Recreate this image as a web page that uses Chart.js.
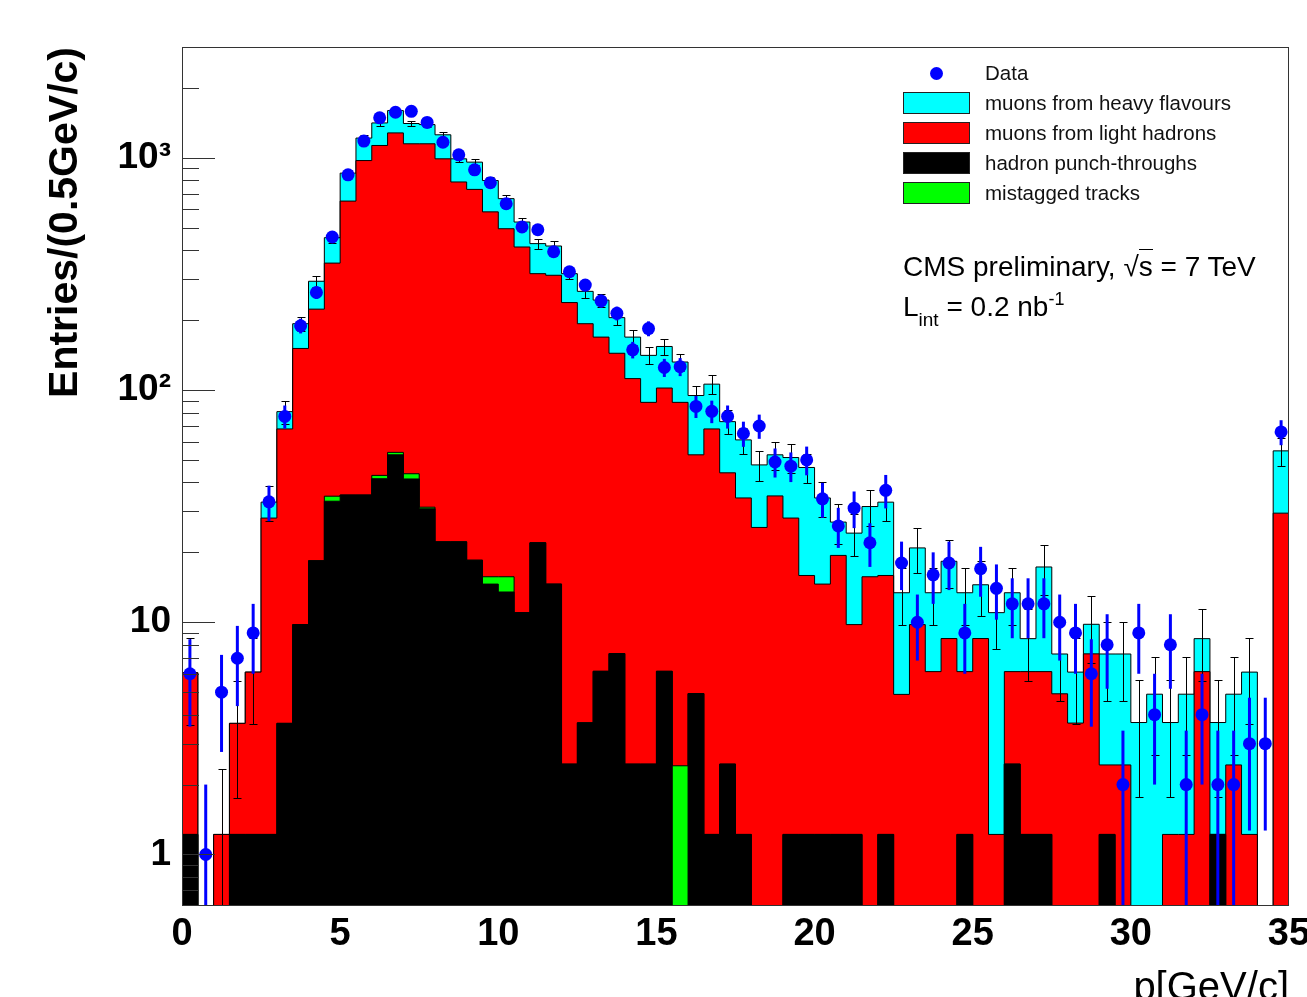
<!DOCTYPE html>
<html>
<head>
<meta charset="utf-8">
<title>Muon momentum spectrum</title>
<script src="https://cdn.jsdelivr.net/npm/chart.js@4.4.1/dist/chart.umd.min.js"></script>
<style>
  html, body { margin: 0; padding: 0; background: #fff; }
  #wrap { position: relative; width: 1307px; height: 997px; overflow: hidden; }
  #wrap canvas { position: absolute; left: 0; top: 0; }
  .ov { position: absolute; font-family: "Liberation Sans", Arial, Helvetica, sans-serif; color: #000; white-space: nowrap; }
  .leg-text { font-size: 20.5px; line-height: 20.5px; color: #111; }
  .leg-box { position: absolute; width: 65px; height: 20px; border: 1px solid #222; }
  .leg-dot { position: absolute; width: 13px; height: 13px; border-radius: 50%; }
  .cms { font-size: 28px; line-height: 28px; }
  .rt { border-top: 1.5px solid #000; padding-top: 1px; }
  .sub { font-size: 19px; position: relative; top: 10px; }
  .sup { font-size: 18px; position: relative; top: -11px; }
</style>
</head>
<body>
<div id="wrap">
  <canvas id="chart" width="1307" height="997"></canvas>
  <div id="legend"></div>
  <div class="ov cms" style="left:903px; top:253px">CMS preliminary, &radic;<span class="rt">s</span> = 7 TeV</div>
  <div class="ov cms" style="left:903px; top:293px">L<span class="sub">int</span> = 0.2 nb<span class="sup">-1</span></div>
</div>
<script>
// 0.5 GeV/c bins, low edges
const binLow = [
  0, 0.5, 1, 1.5, 2, 2.5, 3, 3.5, 4, 4.5, 5, 5.5, 6, 6.5, 7, 7.5, 8, 8.5, 9, 9.5,
  10, 10.5, 11, 11.5, 12, 12.5, 13, 13.5, 14, 14.5, 15, 15.5, 16, 16.5, 17, 17.5, 18, 18.5, 19, 19.5,
  20, 20.5, 21, 21.5, 22, 22.5, 23, 23.5, 24, 24.5, 25, 25.5, 26, 26.5, 27, 27.5, 28, 28.5, 29, 29.5,
  30, 30.5, 31, 31.5, 32, 32.5, 33, 33.5, 34, 34.5
];
const BIN_W = 0.5;

// data counts per bin
const dataCounts = [
  6, 1, 5, 7, 9, 33, 77, 189, 263, 456,
  845, 1180, 1486, 1571, 1585, 1420, 1167, 1030, 888, 781,
  634, 504, 490, 394, 323, 283, 242, 214, 149, 184,
  125, 126, 85, 81, 77, 65, 70, 49, 47, 50,
  34, 26, 31, 22, 37, 18, 10, 16, 18, 9,
  17, 14, 12, 12, 12, 10, 9, 6, 8, 2,
  9, 4, 8, 2, 4, 2, 2, 3, 3, 66
];

// stack levels (ROOT THStack draws the cumulative sums, each one filled from the bottom)
// top of stack = heavy flavours + light hadrons + mistagged + punch-through
const stackHeavy = [
  6.06, 0, 1.22, 3.67, 6.1, 32.9, 80.7, 193, 294, 453,
  859, 1216, 1413, 1597, 1405, 1390, 1256, 990, 958, 798,
  667, 529, 427, 417, 317, 266, 244, 205, 169, 141,
  154, 132, 94.7, 106, 73.1, 61, 47.6, 52.6, 51.2, 46.4,
  34.3, 27.0, 24.2, 31.5, 32.9, 13.4, 20.9, 13.4, 18.3, 13.4,
  14.5, 11.0, 13.4, 8.5, 17.3, 7.3, 6.1, 9.8, 7.3, 7.3,
  3.7, 4.9, 3.7, 4.9, 8.5, 3.7, 4.9, 6.1, 0, 54.7
];
// light hadrons + mistagged + punch-through
const stackLight = [
  6.06, 0, 1.22, 3.67, 6.1, 28.1, 68, 151, 223, 352,
  651, 973, 1130, 1280, 1149, 1149, 990, 787, 731, 585,
  495, 413, 317, 312, 238, 193, 169, 144, 112, 88.5,
  102, 88.5, 52.6, 68, 44.0, 34.3, 25.6, 35, 28.1, 15.9,
  14.6, 19.4, 9.77, 15.7, 15.9, 4.89, 9.77, 6.13, 8.51, 6.13,
  8.51, 1.22, 6.13, 6.13, 6.13, 4.92, 3.68, 7.31, 2.43, 2.43,
  0, 0, 1.22, 1.22, 6.13, 1.22, 2.43, 1.22, 0, 29.5
];
// mistagged + punch-through
const stackMistag = [
  1.22, 0, 0, 1.22, 1.22, 1.22, 3.67, 9.77, 18.4, 34.9,
  35.3, 35.3, 42.9, 53.9, 43.6, 31.3, 22.2, 22.2, 18.5, 15.7,
  15.7, 11.0, 22.0, 14.6, 2.45, 3.69, 6.15, 7.33, 2.45, 2.45,
  6.15, 2.41, 4.93, 1.22, 2.45, 1.22, 0, 0, 1.22, 1.22,
  1.22, 1.22, 1.22, 0, 1.22, 0, 0, 0, 0, 1.22,
  0, 0, 2.45, 1.22, 1.22, 0, 0, 0, 1.22, 0,
  0, 0, 0, 0, 0, 1.22, 0, 0, 0, 0
];
// punch-through only
const stackPunch = [
  1.22, 0, 0, 1.22, 1.22, 1.22, 3.67, 9.77, 18.4, 33.2,
  35.3, 35.3, 41.5, 52.6, 41.4, 30.8, 22.2, 22.2, 18.5, 14.6,
  13.5, 11.0, 22.0, 14.6, 2.45, 3.69, 6.15, 7.33, 2.45, 2.45,
  6.15, 0, 4.93, 1.22, 2.45, 1.22, 0, 0, 1.22, 1.22,
  1.22, 1.22, 1.22, 0, 1.22, 0, 0, 0, 0, 1.22,
  0, 0, 2.45, 1.22, 1.22, 0, 0, 0, 1.22, 0,
  0, 0, 0, 0, 0, 1.22, 0, 0, 0, 0
];

// axis ticks
const yMajor = [1, 10, 100, 1000];
const yMajorLabels = ["1", "10", "10\u00b2", "10\u00b3"];
const yMinor = [0.7, 0.8, 0.9, 2, 3, 4, 5, 6, 7, 8, 9, 20, 30, 40, 50, 60, 70, 80, 90,
  200, 300, 400, 500, 600, 700, 800, 900, 2000];

const FONT = '"Liberation Sans", Arial, Helvetica, sans-serif';
const X_MIN = 0, X_MAX = 35, Y_MIN = 0.61, Y_MAX = 3000;
const FLOOR = 0.1; // empty bins: push the outline below the frame (log axis has no 0)

const DATA_COLOR = "#0000ff";
const series = [
  { label: "muons from heavy flavours", levels: stackHeavy, color: "#00ffff" },
  { label: "muons from light hadrons", levels: stackLight, color: "#ff0000" },
  { label: "hadron punch-throughs", levels: stackPunch, color: "#000000" },
  { label: "mistagged tracks", levels: stackMistag, color: "#00ff00" },
];

function stepPoints(levels) {
  const pts = binLow.map((x, i) => ({ x, y: levels[i] > 0 ? levels[i] : FLOOR }));
  pts.push({ x: X_MAX, y: pts[pts.length - 1].y });
  return pts;
}

function histDataset(s) {
  return {
    type: "line",
    label: s.label,
    data: stepPoints(s.levels),
    // horizontal at this bin's level, then vertical at the next edge
    stepped: "before",
    fill: "start",
    backgroundColor: s.color,
    borderColor: "#000",
    borderWidth: 1,
    pointRadius: 0,
    pointHoverRadius: 0,
  };
}

const byLabel = (l) => series.find((s) => s.label === l);

// first dataset is drawn last (on top)
const datasets = [
  {
    type: "line",
    label: "Data",
    data: binLow.map((x, i) => ({ x: x + BIN_W / 2, y: dataCounts[i] })),
    showLine: false,
    pointRadius: 6.5,
    pointBackgroundColor: DATA_COLOR,
    pointBorderColor: DATA_COLOR,
    pointBorderWidth: 0,
  },
  histDataset(byLabel("hadron punch-throughs")),
  histDataset(byLabel("mistagged tracks")),
  histDataset(byLabel("muons from light hadrons")),
  histDataset(byLabel("muons from heavy flavours")),
];

// error bars: MC stat (black, with caps) on the stack top, data sqrt(N) in blue
const errorBars = {
  id: "errorBars",
  beforeDatasetDraw(chart, args) {
    if (args.index !== 0) return;
    const { ctx, chartArea: a } = chart;
    const { x, y } = chart.scales;
    ctx.save();
    ctx.beginPath();
    ctx.rect(a.left, a.top, a.right - a.left, a.bottom - a.top);
    ctx.clip();

    ctx.strokeStyle = "#000";
    ctx.lineWidth = 1;
    stackHeavy.forEach((v, i) => {
      if (v <= 0) return;
      const e = Math.sqrt(v);
      const px = Math.round(x.getPixelForValue(binLow[i] + BIN_W / 2)) + 0.5;
      const hi = Math.round(y.getPixelForValue(v + e)) + 0.5;
      const lo = v - e > Y_MIN ? Math.round(y.getPixelForValue(v - e)) + 0.5 : a.bottom + 5;
      ctx.beginPath();
      ctx.moveTo(px, lo);
      ctx.lineTo(px, hi);
      ctx.moveTo(px - 4, hi);
      ctx.lineTo(px + 4, hi);
      ctx.moveTo(px - 4, lo);
      ctx.lineTo(px + 4, lo);
      ctx.stroke();
    });

    ctx.strokeStyle = DATA_COLOR;
    ctx.lineWidth = 3;
    dataCounts.forEach((n, i) => {
      if (n <= 0) return;
      const e = Math.sqrt(n);
      const px = x.getPixelForValue(binLow[i] + BIN_W / 2);
      const hi = y.getPixelForValue(n + e);
      const lo = n - e > Y_MIN ? y.getPixelForValue(n - e) : a.bottom + 5;
      ctx.beginPath();
      ctx.moveTo(px, lo);
      ctx.lineTo(px, hi);
      ctx.stroke();
    });
    ctx.restore();
  },
};

// ROOT style frame + inward y ticks, drawn over the histograms
const rootFrame = {
  id: "rootFrame",
  afterDraw(chart) {
    const { ctx, chartArea: a } = chart;
    const y = chart.scales.y;
    ctx.save();
    ctx.strokeStyle = "#333";
    ctx.lineWidth = 1;
    ctx.beginPath();
    const tick = (v, len) => {
      const py = Math.round(y.getPixelForValue(v)) + 0.5;
      ctx.moveTo(a.left, py);
      ctx.lineTo(a.left + len, py);
    };
    yMajor.forEach((v) => tick(v, 33));
    yMinor.forEach((v) => tick(v, 17));
    ctx.stroke();
    ctx.strokeRect(a.left + 0.5, a.top + 0.5, a.right - a.left - 1, a.bottom - a.top - 1);
    ctx.restore();
  },
};

new Chart(document.getElementById("chart"), {
  type: "line",
  data: { datasets },
  options: {
    responsive: false,
    devicePixelRatio: 1,
    animation: false,
    events: [],
    layout: { padding: { top: 47, right: 18, bottom: 0, left: 0 } },
    plugins: { legend: { display: false }, tooltip: { enabled: false } },
    scales: {
      x: {
        type: "linear",
        min: X_MIN,
        max: X_MAX,
        afterFit(s) {
          s.height = 91;
          s.paddingLeft = 0;
          s.paddingRight = 0;
        },
        grid: { display: false, drawTicks: false },
        border: { display: false },
        ticks: {
          stepSize: 5,
          autoSkip: false,
          maxRotation: 0,
          padding: 6,
          color: "#000",
          font: { family: FONT, size: 38, weight: "bold" },
        },
        title: {
          display: true,
          text: "p[GeV/c]",
          align: "end",
          color: "#000",
          font: { family: FONT, size: 40, weight: "normal", lineHeight: 0.42 },
          padding: 0,
        },
      },
      y: {
        type: "logarithmic",
        min: Y_MIN,
        max: Y_MAX,
        afterBuildTicks(s) {
          s.ticks = yMajor.map((v) => ({ value: v }));
        },
        afterFit(s) {
          s.width = 182;
          s.paddingTop = 0;
          s.paddingBottom = 0;
        },
        grid: { display: false, drawTicks: false },
        border: { display: false },
        ticks: {
          autoSkip: false,
          padding: 11,
          color: "#000",
          font: { family: FONT, size: 37, weight: "bold" },
          callback(v) {
            const k = yMajor.indexOf(Number(v));
            return k >= 0 ? yMajorLabels[k] : "";
          },
        },
        title: {
          display: true,
          text: "Entries/(0.5GeV/c)",
          align: "end",
          color: "#000",
          font: { family: FONT, size: 41, weight: "bold", lineHeight: 1 },
          padding: { top: 45, bottom: 0 },
        },
      },
    },
  },
  plugins: [errorBars, rootFrame],
});

// legend (top right, inside the frame) built from the same series list
(function buildLegend() {
  const host = document.getElementById("legend");
  const rowY = (i) => 73 + 30.1 * i; // row centres
  const entries = [{ label: "Data", color: DATA_COLOR, marker: true }].concat(series);
  entries.forEach((e, i) => {
    const cy = rowY(i);
    const mark = document.createElement("div");
    if (e.marker) {
      mark.className = "leg-dot";
      mark.style.left = 930 + "px";
      mark.style.top = cy - 6.5 + "px";
    } else {
      mark.className = "leg-box";
      mark.style.left = 903 + "px";
      mark.style.top = cy - 11 + "px";
    }
    mark.style.background = e.color;
    host.appendChild(mark);

    const t = document.createElement("div");
    t.className = "ov leg-text";
    t.style.left = "985px";
    t.style.top = cy + 7 - 17.35 + "px";
    t.textContent = e.label;
    host.appendChild(t);
  });
})();
</script>
</body>
</html>
